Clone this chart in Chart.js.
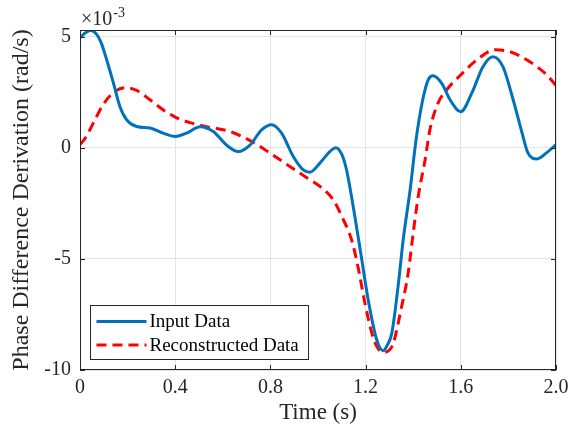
<!DOCTYPE html>
<html><head><meta charset="utf-8">
<script src="https://cdn.jsdelivr.net/npm/chart.js@4.4.0/dist/chart.umd.min.js"></script>
<style>html,body{margin:0;padding:0;background:#fff;} #wrap{width:587px;height:436px;position:relative}</style>
</head><body><div id="wrap"><canvas id="c" width="587" height="436"></canvas></div>
<script>
// values in units of 1e-3 rad/s
const inputTime = [0,0.02,0.045,0.07,0.09,0.112,0.14,0.168,0.196,0.238,0.294,0.349,0.4,0.448,0.505,0.56,0.616,0.665,0.714,0.763,0.805,0.847,0.896,0.938,0.966,1.008,1.05,1.075,1.1,1.12,1.155,1.183,1.211,1.247,1.274,1.29,1.31,1.338,1.358,1.387,1.412,1.44,1.463,1.483,1.52,1.555,1.6,1.647,1.693,1.735,1.777,1.82,1.857,1.882,1.92,1.96,2.0];
const inputValues = [4.95,5.15,5.28,5.1,4.7,3.96,2.93,1.85,1.26,0.96,0.89,0.66,0.51,0.66,0.95,0.73,0.12,-0.17,0.12,0.81,1.04,0.66,-0.39,-0.99,-1.1,-0.69,-0.17,0.0,-0.3,-1.0,-3.1,-4.97,-6.85,-8.65,-9.13,-8.9,-8.35,-6.1,-4.14,-1.9,0.36,2.16,3.06,3.24,2.9,2.16,1.62,2.48,3.65,4.1,3.65,2.16,0.68,-0.23,-0.5,-0.23,0.14];
const reconTime = [0,0.02,0.063,0.097,0.14,0.189,0.238,0.294,0.349,0.406,0.462,0.54,0.63,0.721,0.798,0.882,0.945,1.008,1.064,1.105,1.141,1.168,1.197,1.226,1.25,1.275,1.3,1.317,1.351,1.379,1.4,1.421,1.45,1.47,1.504,1.54,1.597,1.668,1.744,1.807,1.89,1.96,2.0];
const reconValues = [0.15,0.4,1.26,1.94,2.48,2.7,2.58,2.16,1.71,1.35,1.13,0.93,0.73,0.29,-0.24,-0.84,-1.29,-1.74,-2.34,-3.2,-4.14,-5.36,-6.98,-8.33,-9.0,-9.2,-9.1,-8.78,-7.16,-5.63,-3.83,-2.2,-0.54,0.8,2.0,2.6,3.25,3.96,4.41,4.32,3.87,3.29,2.8];
const xTicks = [0,0.4,0.8,1.2,1.6,2.0];
const xTickLabels = ['0','0.4','0.8','1.2','1.6','2.0'];
const yTicks = [-10,-5,0,5];
const yTickLabels = ['-10','-5','0','5'];
const seriesLabels = ['Input Data','Reconstructed Data'];
const xLabel = 'Time (s)';
const yLabel = 'Phase Difference Derivation (rad/s)';
const exponentBase = '\u00d710';
const exponentPower = '-3';

const FONT = '"Liberation Serif", "Times New Roman", serif';
const TXT = '#262626';

const frame = {
  id: 'frame',
  afterDatasetsDraw(chart) {
    const {ctx, chartArea: a, scales: {x, y}} = chart;
    ctx.save();
    ctx.strokeStyle = TXT; ctx.lineWidth = 1;
    ctx.strokeRect(Math.round(a.left) + 0.5, Math.round(a.top) + 0.5, Math.round(a.right - a.left) - 1, Math.round(a.bottom - a.top) - 1);
    const tl = 5;
    ctx.beginPath();
    xTicks.forEach(v => {
      const px = Math.round(x.getPixelForValue(v)) + 0.5;
      ctx.moveTo(px, a.bottom); ctx.lineTo(px, a.bottom - tl);
      ctx.moveTo(px, a.top); ctx.lineTo(px, a.top + tl);
    });
    yTicks.forEach(v => {
      const py = Math.round(y.getPixelForValue(v)) + 0.5;
      ctx.moveTo(a.left, py); ctx.lineTo(a.left + tl, py);
      ctx.moveTo(a.right, py); ctx.lineTo(a.right - tl, py);
    });
    ctx.stroke();
    // exponent
    ctx.fillStyle = TXT;
    ctx.textBaseline = 'alphabetic'; ctx.textAlign = 'left';
    ctx.font = '20px ' + FONT;
    ctx.fillText(exponentBase, a.left + 1, a.top - 5);
    const w = ctx.measureText(exponentBase).width;
    ctx.font = '14px ' + FONT;
    ctx.fillText(exponentPower, a.left + 1 + w + 1, a.top - 13);
    // legend
    const lx = a.left + 10.5, ly = a.bottom - 64.5, lw = 218, lh = 54;
    ctx.fillStyle = '#fff';
    ctx.fillRect(lx, ly, lw, lh);
    ctx.strokeStyle = TXT; ctx.lineWidth = 1;
    ctx.strokeRect(lx, ly, lw, lh);
    chart.data.datasets.forEach((ds, i) => {
      const cy = ly + 16 + i * 23.5;
      ctx.save();
      ctx.strokeStyle = ds.borderColor; ctx.lineWidth = ds.borderWidth;
      ctx.setLineDash(ds.borderDash || []);
      ctx.beginPath(); ctx.moveTo(lx + 6, cy); ctx.lineTo(lx + 56, cy); ctx.stroke();
      ctx.restore();
      ctx.fillStyle = '#000';
      ctx.font = '19px ' + FONT;
      ctx.textBaseline = 'middle';
      ctx.fillText(ds.label, lx + 59, cy + 1);
    });
    ctx.restore();
  }
};

new Chart(document.getElementById('c'), {
  type: 'line',
  data: {
    datasets: [
      { label: seriesLabels[0], data: inputTime.map((t, i) => ({x: t, y: inputValues[i]})),
        borderColor: '#0072BD', borderWidth: 3, pointRadius: 0, cubicInterpolationMode: 'monotone', fill: false },
      { label: seriesLabels[1], data: reconTime.map((t, i) => ({x: t, y: reconValues[i]})),
        borderColor: '#FF0000', borderWidth: 3, borderDash: [10, 6], pointRadius: 0, cubicInterpolationMode: 'monotone', fill: false }
    ]
  },
  options: {
    responsive: false, animation: false, devicePixelRatio: 1,
    layout: { padding: { left: 0, right: 31, top: 30, bottom: 0 } },
    plugins: { legend: { display: false }, tooltip: { enabled: false } },
    scales: {
      x: {
        type: 'linear', min: 0, max: 2,
        afterBuildTicks: s => { s.ticks = xTicks.map(v => ({value: v})); },
        afterFit: s => { s.height = 66; },
        ticks: { callback: (v) => xTickLabels[xTicks.indexOf(v)] ?? '', color: TXT, font: { family: FONT, size: 20 }, padding: 6, maxRotation: 0 },
        grid: { color: '#e3e3e3', drawTicks: false },
        border: { display: false },
        title: { display: true, text: xLabel, color: TXT, font: { family: FONT, size: 23 }, padding: { top: 0, bottom: 9 } }
      },
      y: {
        type: 'linear', min: -10, max: 5.3,
        afterBuildTicks: s => { s.ticks = yTicks.map(v => ({value: v})); },
        afterFit: s => { s.width = 80; },
        ticks: { callback: (v) => yTickLabels[yTicks.indexOf(v)] ?? '', color: TXT, font: { family: FONT, size: 20 }, padding: 9 },
        grid: { color: '#e3e3e3', drawTicks: false },
        border: { display: false },
        title: { display: true, text: yLabel, color: TXT, font: { family: FONT, size: 24 }, padding: { top: 7, bottom: 0 } }
      }
    }
  },
  plugins: [frame]
});
</script></body></html>
